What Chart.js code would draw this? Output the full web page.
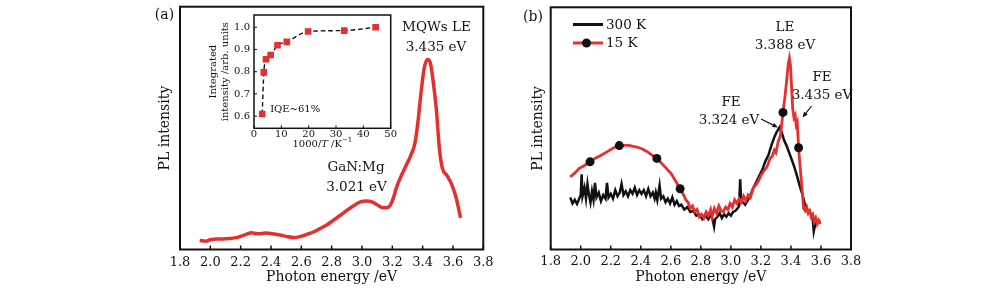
<!DOCTYPE html>
<html>
<head>
<meta charset="utf-8">
<script src="https://cdn.jsdelivr.net/npm/chart.js@4.4.0/dist/chart.umd.min.js"></script>
<style>
  body { margin: 0; background: #fff; }
  #wrap { position: relative; width: 1000px; height: 294px; }
  canvas { position: absolute; }
</style>
</head>
<body>
<div id="wrap">
  <canvas id="chartA" width="500" height="294" style="left:0;top:0"></canvas>
  <canvas id="inset" width="210" height="150" style="left:195px;top:5px"></canvas>
  <canvas id="chartB" width="500" height="294" style="left:500px;top:0"></canvas>
</div>
<script>
// ---- data ----
var energyTicks = [1.8, 2.0, 2.2, 2.4, 2.6, 2.8, 3.0, 3.2, 3.4, 3.6, 3.8];

// (a) PL spectrum, arbitrary units
var energyA = [1.93, 1.97, 2.0, 2.04, 2.08, 2.13, 2.17, 2.2, 2.24, 2.27, 2.31, 2.34, 2.37, 2.41, 2.46, 2.5,
  2.55, 2.59, 2.64, 2.68, 2.72, 2.77, 2.81, 2.86, 2.9, 2.95, 2.99, 3.03, 3.07, 3.11, 3.14, 3.17, 3.2,
  3.23, 3.26, 3.29, 3.32, 3.35, 3.37, 3.39, 3.41, 3.43, 3.45, 3.47, 3.49, 3.51, 3.53, 3.56, 3.59, 3.62, 3.64, 3.65];
var intensityA = [3.7, 3.4, 4.0, 4.3, 4.3, 4.5, 4.9, 5.4, 6.3, 6.9, 6.5, 6.6, 6.8, 6.5, 6.0, 5.4,
  4.9, 5.3, 6.3, 7.2, 8.5, 10.2, 12.0, 14.2, 16.1, 18.2, 19.6, 20.0, 19.5, 18.0, 17.2, 17.3, 20.0,
  26.0, 30.5, 34.5, 38.5, 44.0, 53.0, 65.0, 74.5, 78.3, 77.0, 69.0, 58.0, 42.0, 33.5, 30.5, 27.0, 21.5, 16.0, 13.0];

// (a) inset: integrated intensity vs 1000/T
var insetX = [3.0, 3.6, 4.4, 6.1, 8.6, 12.0, 19.8, 33.0, 44.5];
var insetY = [0.61, 0.797, 0.856, 0.875, 0.919, 0.934, 0.981, 0.985, 1.0];
var insetXTicks = [0, 10, 20, 30, 40, 50];
var insetYTicks = [0.6, 0.7, 0.8, 0.9, 1.0];

// (b) 300 K spectrum
var energy300 = [1.93, 1.945, 1.96, 1.975, 1.99, 2.0, 2.006, 2.012, 2.025, 2.035, 2.045, 2.055, 2.065, 2.075,
  2.085, 2.095, 2.105, 2.12, 2.135, 2.15, 2.165, 2.175, 2.185, 2.2, 2.215, 2.23, 2.245, 2.26, 2.272, 2.285,
  2.3, 2.315, 2.33, 2.345, 2.36, 2.375, 2.39, 2.405, 2.42, 2.435, 2.45, 2.465, 2.48, 2.492, 2.5, 2.51, 2.525,
  2.535, 2.55, 2.565, 2.58, 2.595, 2.61, 2.625, 2.64, 2.655, 2.67, 2.69, 2.71, 2.73, 2.75, 2.77, 2.79, 2.81,
  2.83, 2.85, 2.865, 2.88, 2.888, 2.895, 2.91, 2.925, 2.94, 2.955, 2.97, 2.985, 3.0, 3.015, 3.03, 3.045,
  3.055, 3.062, 3.068, 3.08, 3.095, 3.11, 3.13, 3.15, 3.17, 3.19, 3.21, 3.23, 3.25, 3.27, 3.29, 3.305,
  3.325, 3.34, 3.355, 3.37, 3.385, 3.4, 3.42, 3.44, 3.46, 3.475, 3.49, 3.505, 3.52, 3.535, 3.545, 3.552,
  3.56, 3.57, 3.58, 3.595];
var pl300 = [21.5, 19.0, 20.5, 18.8, 21.0, 22.5, 31.0, 22.0, 25.5, 21.0, 27.0, 22.5, 19.5, 24.0,
  20.5, 27.5, 21.5, 23.5, 20.0, 22.5, 21.0, 27.5, 21.5, 23.0, 21.0, 24.5, 22.0, 23.5, 27.0, 22.5,
  24.0, 22.0, 24.5, 23.0, 25.5, 22.5, 24.5, 23.0, 24.5, 22.0, 25.0, 22.0, 23.5, 21.0, 23.5, 20.5, 26.5,
  21.0, 22.0, 19.5, 21.0, 19.0, 21.5, 18.5, 20.0, 18.0, 18.5, 16.5, 17.5, 15.5, 16.0, 14.0, 14.5, 12.5,
  14.0, 12.5, 14.5, 12.0, 9.5, 12.5, 13.5, 15.0, 13.0, 14.5, 13.5, 15.0, 14.0, 15.5, 16.0, 17.0,
  18.0, 29.0, 20.0, 19.5, 18.5, 20.0, 22.5, 25.5, 28.0, 30.5, 33.0, 36.5, 39.0, 43.0, 46.5, 48.5,
  50.5, 48.0, 45.0, 43.0, 40.5, 38.0, 34.5, 30.5, 26.0, 23.0, 19.5, 16.5, 15.5, 14.5, 12.5, 7.5,
  10.0, 12.0, 11.5, 12.0];

// (b) 15 K spectrum, with the circle markers
var energy15 = [1.93, 1.96, 1.99, 2.02, 2.062, 2.1, 2.14, 2.18, 2.22, 2.257, 2.29, 2.32, 2.35, 2.38, 2.41,
  2.44, 2.47, 2.507, 2.54, 2.57, 2.6, 2.63, 2.662, 2.685, 2.7, 2.715, 2.73, 2.745, 2.76, 2.775, 2.79,
  2.805, 2.82, 2.835, 2.85, 2.865, 2.875, 2.89, 2.905, 2.92, 2.935, 2.95, 2.965, 2.98, 2.995, 3.01,
  3.025, 3.04, 3.055, 3.07, 3.085, 3.1, 3.115, 3.13, 3.15, 3.17, 3.185, 3.2, 3.22, 3.24, 3.26, 3.275,
  3.29, 3.3, 3.315, 3.33, 3.347, 3.36, 3.372, 3.382, 3.39, 3.397, 3.405, 3.412, 3.42, 3.428, 3.435,
  3.442, 3.451, 3.46, 3.473, 3.484, 3.495, 3.505, 3.515, 3.525, 3.535, 3.545, 3.555, 3.565, 3.575,
  3.585, 3.595];
var pl15 = [30.0, 31.5, 33.5, 34.5, 36.2, 37.8, 39.0, 40.5, 42.0, 42.9, 43.0, 43.0, 42.6, 42.2, 41.5,
  40.5, 39.2, 37.6, 35.5, 33.5, 31.5, 28.5, 25.1, 22.5, 20.5, 19.5, 17.0, 18.0, 15.5, 16.5, 13.5,
  14.5, 13.0, 15.5, 14.0, 16.5, 13.5, 17.0, 15.0, 18.0, 16.0, 15.5, 17.5, 16.5, 19.0, 17.5,
  20.5, 19.0, 21.0, 19.5, 22.0, 20.0, 22.5, 21.5, 25.5, 27.0, 28.5, 30.5, 32.5, 34.0, 37.5, 38.5,
  41.0, 40.0, 44.5, 47.0, 56.6, 63.0, 70.0, 76.5, 79.0, 76.0, 66.0, 58.0, 54.5, 55.5, 51.5,
  52.5, 42.0, 35.0, 26.0, 17.0, 16.0, 17.5, 15.0, 16.0, 13.5, 14.5, 11.5, 13.0, 10.5,
  12.0, 10.5];
var markers15 = [2.062, 2.257, 2.507, 2.662, 3.347, 3.451];

// ---- helpers ----
var RED = '#e4302f';
var INK = '#111111';
var SERIF = "'DejaVu Serif', serif";

Chart.defaults.font.family = SERIF;
Chart.defaults.color = INK;
Chart.defaults.animation = false;
Chart.defaults.plugins.legend.display = false;
Chart.defaults.plugins.tooltip.enabled = false;

function toXY(xs, ys) {
  return xs.map(function (x, i) { return { x: x, y: ys[i] }; });
}

function setTicks(list) {
  return function (axis) { axis.ticks = list.map(function (v) { return { value: v }; }); };
}

function text(c, str, x, y, size, align) {
  c.font = size + 'px ' + SERIF;
  c.fillStyle = INK;
  c.textAlign = align || 'center';
  c.textBaseline = 'middle';
  c.fillText(str, x, y);
}

function arrow(c, x1, y1, x2, y2) {
  var ang = Math.atan2(y2 - y1, x2 - x1), h = 6;
  c.strokeStyle = INK; c.fillStyle = INK; c.lineWidth = 1.2;
  c.beginPath(); c.moveTo(x1, y1); c.lineTo(x2 - Math.cos(ang) * 3, y2 - Math.sin(ang) * 3); c.stroke();
  c.beginPath();
  c.moveTo(x2, y2);
  c.lineTo(x2 - h * Math.cos(ang - 0.4), y2 - h * Math.sin(ang - 0.4));
  c.lineTo(x2 - h * Math.cos(ang + 0.4), y2 - h * Math.sin(ang + 0.4));
  c.closePath(); c.fill();
}

// box around plot area plus inward tick marks
function frame(width, tickLen, withY) {
  return {
    id: 'frame',
    afterDraw: function (chart) {
      var a = chart.chartArea, c = chart.ctx;
      c.save();
      c.strokeStyle = INK;
      c.lineWidth = width;
      c.strokeRect(a.left, a.top, a.right - a.left, a.bottom - a.top);
      c.lineWidth = Math.max(1, width - 0.5);
      var sx = chart.scales.x;
      sx.ticks.forEach(function (t) {
        var px = sx.getPixelForValue(t.value);
        c.beginPath(); c.moveTo(px, a.bottom); c.lineTo(px, a.bottom - tickLen); c.stroke();
      });
      if (withY) {
        var sy = chart.scales.y;
        sy.ticks.forEach(function (t) {
          var py = sy.getPixelForValue(t.value);
          c.beginPath(); c.moveTo(a.left, py); c.lineTo(a.left + tickLen, py); c.stroke();
        });
      }
      c.restore();
    }
  };
}

var noGrid = { display: false, drawTicks: false };

function energyAxis(tickPad) {
  return {
    type: 'linear', min: 1.8, max: 3.8,
    afterBuildTicks: setTicks(energyTicks),
    afterFit: function (s) { s.height = 44.5; },
    grid: noGrid, border: { display: false },
    ticks: { font: { size: 13 }, padding: tickPad, maxRotation: 0, autoSkip: false,
      callback: function (v) { return Number(v).toFixed(1); } },
    title: { display: true, text: 'Photon energy /eV', font: { size: 14 }, padding: { top: 0, bottom: 8.6 } }
  };
}

function plAxis(width, titlePad) {
  return {
    min: 0, max: 100,
    ticks: { display: false }, grid: noGrid, border: { display: false },
    afterFit: function (s) { s.width = width; },
    title: { display: true, text: 'PL intensity', font: { size: 14 }, padding: { top: titlePad, bottom: 0 } }
  };
}

// ---- panel (a) ----
new Chart(document.getElementById('chartA'), {
  type: 'line',
  data: {
    datasets: [{
      data: toXY(energyA, intensityA),
      borderColor: RED, borderWidth: 3.5, pointRadius: 0,
      cubicInterpolationMode: 'monotone'
    }]
  },
  options: {
    responsive: false, devicePixelRatio: 1,
    layout: { padding: { left: 150, right: 16.7, top: 6.7, bottom: 0 } },
    scales: { x: energyAxis(5.5), y: plAxis(30, 7) }
  },
  plugins: [frame(2, 4, false), {
    id: 'notesA',
    afterDraw: function (chart) {
      var c = chart.ctx;
      c.save();
      text(c, '(a)', 164.5, 15, 14);
      text(c, 'MQWs LE', 436.5, 27, 13.5);
      text(c, '3.435 eV', 436, 47, 13.5);
      text(c, 'GaN:Mg', 356, 167, 13.5);
      text(c, '3.021 eV', 356.5, 187, 13.5);
      c.restore();
    }
  }]
});

// ---- inset of (a) ----
new Chart(document.getElementById('inset'), {
  type: 'line',
  data: {
    datasets: [{
      data: toXY(insetX, insetY),
      borderColor: INK, borderWidth: 1.4, borderDash: [4.5, 3],
      cubicInterpolationMode: 'monotone',
      pointStyle: 'rect', pointRadius: 4.7, pointBackgroundColor: RED, pointBorderWidth: 0
    }]
  },
  options: {
    responsive: false, devicePixelRatio: 1,
    layout: { padding: { left: 8, right: 14.3, top: 8.3, bottom: 0 } },
    scales: {
      x: {
        type: 'linear', min: 0, max: 50,
        afterBuildTicks: setTicks(insetXTicks),
        afterFit: function (s) { s.height = 26.7; },
        grid: noGrid, border: { display: false },
        ticks: { font: { size: 10 }, padding: 0, maxRotation: 0, autoSkip: false }
      },
      y: {
        min: 0.5455, max: 1.055,
        afterBuildTicks: setTicks(insetYTicks),
        afterFit: function (s) { s.width = 51; },
        grid: noGrid, border: { display: false },
        ticks: { font: { size: 10 }, padding: 4, callback: function (v) { return Number(v).toFixed(1); } },
        title: { display: true, text: ['Integrated', 'intensity /arb. units'],
          font: { size: 10, lineHeight: 1.25 }, padding: { top: 4, bottom: 0 } }
      }
    }
  },
  plugins: [frame(1.5, 3, true), {
    id: 'notesInset',
    afterDraw: function (chart) {
      var c = chart.ctx, a = chart.chartArea;
      var sx = chart.scales.x, sy = chart.scales.y;
      c.save();
      text(c, 'IQE~61%', sx.getPixelForValue(5.9), sy.getPixelForValue(0.631), 10, 'left');
      // x title: 1000/T /K^-1 with italic T
      var parts = [['1000/', '10px ' + SERIF, 0], ['T', 'italic 10px ' + SERIF, 0],
        [' /K', '10px ' + SERIF, 0], ['\u22121', '7px ' + SERIF, -4]];
      var total = 0;
      parts.forEach(function (p) { c.font = p[1]; p.push(c.measureText(p[0]).width); total += p[3]; });
      var x = (a.left + a.right) / 2 - total / 2, y = 139;
      c.fillStyle = INK; c.textAlign = 'left'; c.textBaseline = 'middle';
      parts.forEach(function (p) { c.font = p[1]; c.fillText(p[0], x, y + p[2]); x += p[3]; });
      c.restore();
    }
  }]
});

// ---- panel (b) ----
new Chart(document.getElementById('chartB'), {
  type: 'line',
  data: {
    datasets: [{
      label: '15 K',
      data: toXY(energy15, pl15),
      borderColor: RED, borderWidth: 2.8,
      pointRadius: function (ctx) { return markers15.indexOf(energy15[ctx.dataIndex]) >= 0 ? 4.5 : 0; },
      pointBackgroundColor: INK, pointBorderWidth: 0
    }, {
      label: '300 K',
      data: toXY(energy300, pl300),
      borderColor: INK, borderWidth: 2.5, pointRadius: 0
    }]
  },
  options: {
    responsive: false, devicePixelRatio: 1,
    layout: { padding: { left: 22, right: 149, top: 7.3, bottom: 0 } },
    scales: { x: energyAxis(4), y: plAxis(28.7, 7.6) }
  },
  plugins: [frame(2, 4, false), {
    id: 'notesB',
    afterDraw: function (chart) {
      var c = chart.ctx;
      c.save();
      text(c, '(b)', 33, 17, 14);
      // legend
      c.lineWidth = 3;
      c.strokeStyle = INK;
      c.beginPath(); c.moveTo(73, 24.5); c.lineTo(103, 24.5); c.stroke();
      text(c, '300 K', 106, 25, 13.5, 'left');
      c.strokeStyle = RED;
      c.beginPath(); c.moveTo(73, 43); c.lineTo(103, 43); c.stroke();
      c.fillStyle = INK;
      c.beginPath(); c.arc(86.5, 43, 4.5, 0, Math.PI * 2); c.fill();
      text(c, '15 K', 106, 43.5, 13.5, 'left');
      // peak labels
      text(c, 'LE', 285, 27, 13.5);
      text(c, '3.388 eV', 285, 45, 13.5);
      text(c, 'FE', 231, 102, 13.5);
      text(c, '3.324 eV', 229, 120, 13.5);
      arrow(c, 261, 119, 278, 127.5);
      text(c, 'FE', 322, 77, 13.5);
      text(c, '3.435 eV', 322, 95.5, 13.5);
      arrow(c, 311.5, 106, 302.5, 117.5);
      c.restore();
    }
  }]
});
</script>
</body>
</html>
